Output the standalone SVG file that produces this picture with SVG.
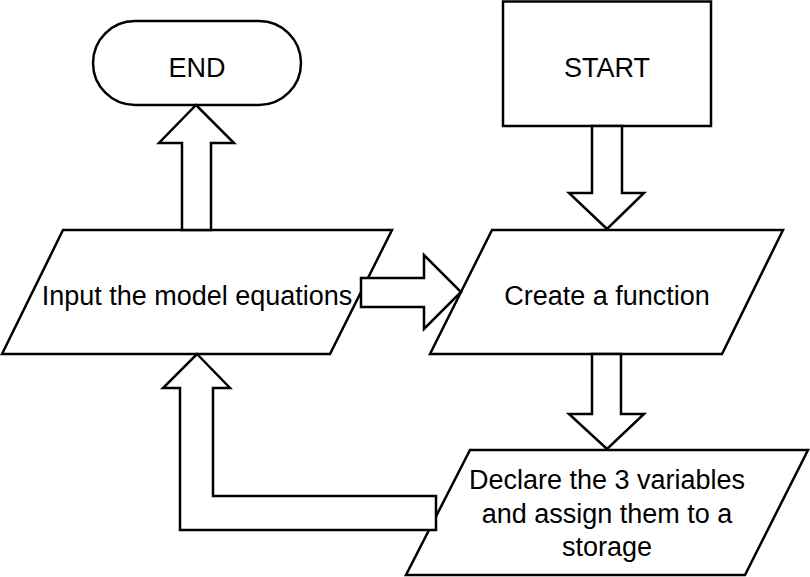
<svg xmlns="http://www.w3.org/2000/svg" width="810" height="577" viewBox="0 0 810 577">
<style>
.s{fill:#fff;stroke:#000;stroke-width:2.5;stroke-linejoin:miter}
.t{font-family:"Liberation Sans",Arial,sans-serif;font-size:27px;fill:#000;text-anchor:middle}
</style>
<rect width="810" height="577" fill="#fff"/>
<g id="end"><rect class="s" x="93" y="21" width="208" height="84" rx="42" ry="42"/><text class="t" x="197" y="77">END</text></g>
<g id="start"><rect class="s" x="503" y="1.5" width="208" height="124.5"/><text class="t" x="607" y="77">START</text></g>
<g id="input"><polygon class="s" points="63,230 392,230 330,354 2,354"/><text class="t" x="197" y="305">Input the model equations</text></g>
<g id="create"><polygon class="s" points="492,230 783,230 722,354 430,354"/><text class="t" x="607" y="305">Create a function</text></g>
<g id="declare"><polygon class="s" points="470,450 808,450 745,575 406,575"/><text class="t" x="607" y="489">Declare the 3 variables</text><text class="t" x="607" y="523">and assign them to a</text><text class="t" x="607" y="556">storage</text></g>
<g id="connectors">
<polygon class="s" points="196,105 234,143 211,143 211,230 182,230 182,143 159,143"/>
<polygon class="s" points="592,126 592,193 569,193 607,229 644,193 622,193 622,126"/>
<polygon class="s" points="361,278 424,278 424,255 461,292 424,329 424,307 361,307"/>
<polygon class="s" points="592,354 592,414 569,414 607,449 644,414 621,414 621,354"/>
<polygon class="s" points="197,354 230,388 213,388 213,496 436,496 436,530 180,530 180,388 163,388"/>
</g>
</svg>
